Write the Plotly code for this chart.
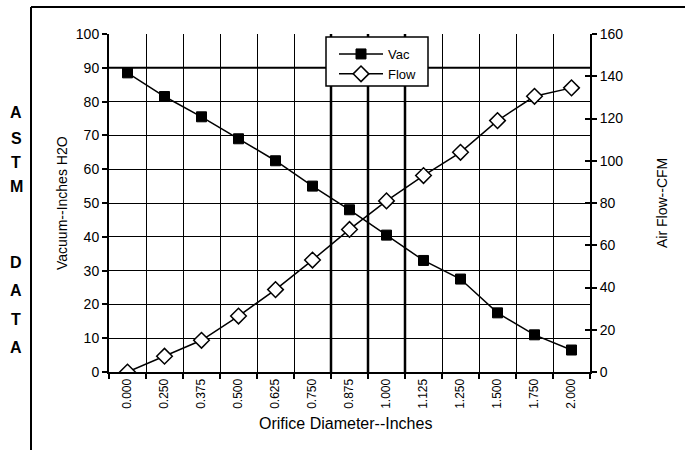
import plotly.graph_objects as go

diameters = ["0.000", "0.250", "0.375", "0.500", "0.625", "0.750", "0.875",
             "1.000", "1.125", "1.250", "1.500", "1.750", "2.000"]
vac = [88.5, 81.5, 75.5, 69.0, 62.5, 55.0, 48.0, 40.5, 33.0, 27.5, 17.5, 11.0, 6.5]
flow = [0.0, 7.5, 15.0, 26.5, 39.0, 53.0, 67.5, 81.0, 93.0, 104.0, 119.0, 130.5, 134.5]
side_letters = ["A", "S", "T", "M", "D", "A", "T", "A"]
side_letter_y = [113, 138, 162, 186, 262, 290, 319, 347]

FONT = "Arial, Liberation Sans, sans-serif"
PX0, PW, PY0, PH = 109, 481, 34, 338  # plot area in page pixels

fig = go.Figure()
fig.add_trace(go.Scatter(
    x=diameters, y=vac, name="Vac", mode="lines+markers",
    line=dict(color="black", width=1.5),
    marker=dict(symbol="square", size=10, color="black", line=dict(color="black", width=1)),
    yaxis="y"))
fig.add_trace(go.Scatter(
    x=diameters, y=flow, name="Flow", mode="lines+markers",
    line=dict(color="black", width=1.5),
    marker=dict(symbol="diamond", size=12, color="white", line=dict(color="black", width=1.5)),
    yaxis="y2"))


def px_x(p):
    return (p - PX0) / PW


def px_y(p):
    return (PY0 + PH - p) / PH


shapes = []
for xc in [5.5, 6.5, 7.5]:
    shapes.append(dict(type="line", xref="x", yref="paper", x0=xc, x1=xc, y0=0, y1=1,
                       line=dict(color="black", width=2.5), layer="below"))
shapes.append(dict(type="line", xref="paper", yref="y", x0=0, x1=1, y0=90, y1=90,
                   line=dict(color="black", width=2), layer="below"))
shapes.append(dict(type="line", xref="paper", yref="paper", x0=px_x(31), x1=px_x(31),
                   y0=px_y(460), y1=px_y(7), line=dict(color="black", width=2)))
shapes.append(dict(type="line", xref="paper", yref="paper", x0=px_x(31), x1=px_x(700),
                   y0=px_y(7), y1=px_y(7), line=dict(color="black", width=2)))
# legend box
shapes.append(dict(type="rect", xref="paper", yref="paper", x0=px_x(326), x1=px_x(428),
                   y0=px_y(86), y1=px_y(37), fillcolor="white",
                   line=dict(color="black", width=1.5), layer="above"))

annotations = []
annotations.append(dict(text="Vacuum--Inches H2O", xref="paper", yref="paper", x=px_x(62), y=0.5,
                        textangle=-90, showarrow=False, font=dict(family=FONT, size=14, color="black"),
                        xanchor="center", yanchor="middle"))
annotations.append(dict(text="Air Flow--CFM", xref="paper", yref="paper", x=px_x(662), y=0.5,
                        textangle=-90, showarrow=False, font=dict(family=FONT, size=14, color="black"),
                        xanchor="center", yanchor="middle"))
annotations.append(dict(text="Orifice Diameter--Inches", xref="paper", yref="paper", x=px_x(345),
                        y=px_y(424), showarrow=False, font=dict(family=FONT, size=16, color="black"),
                        xanchor="center", yanchor="middle"))
for ch, py in zip(side_letters, side_letter_y):
    annotations.append(dict(text="<b>%s</b>" % ch, xref="paper", yref="paper",
                            x=px_x(16), y=px_y(py), showarrow=False,
                            font=dict(family=FONT, size=16, color="black"),
                            xanchor="center", yanchor="middle"))

fig.update_layout(
    width=685, height=450,
    margin=dict(l=PX0, r=685 - PX0 - PW, t=PY0, b=450 - PY0 - PH),
    paper_bgcolor="white", plot_bgcolor="white",
    font=dict(family=FONT, color="black"),
    showlegend=True,
    legend=dict(x=px_x(334), y=px_y(39), xanchor="left", yanchor="top",
                bgcolor="rgba(0,0,0,0)", borderwidth=0,
                font=dict(family=FONT, size=13, color="black"),
                itemwidth=44),
    xaxis=dict(type="category", tickson="boundaries", showgrid=True, gridcolor="black", gridwidth=1,
               ticks="outside", ticklen=5, tickcolor="black", tickwidth=2,
               showline=True, linecolor="black", linewidth=2,
               tickangle=-90, tickfont=dict(family=FONT, size=12, color="black"),
               range=[-0.5, 12.5], zeroline=False),
    yaxis=dict(range=[0, 100], dtick=10, showgrid=True, gridcolor="black", gridwidth=1,
               ticks="outside", ticklen=5, tickcolor="black", tickwidth=2,
               showline=True, linecolor="black", linewidth=2, zeroline=False,
               tickfont=dict(family=FONT, size=14, color="black")),
    yaxis2=dict(range=[0, 160], dtick=20, overlaying="y", side="right", showgrid=False,
                ticks="outside", ticklen=5, tickcolor="black", tickwidth=2,
                showline=True, linecolor="black", linewidth=2, zeroline=False,
                tickfont=dict(family=FONT, size=14, color="black")),
    yaxis3=dict(range=[0, 160], dtick=20, overlaying="y", side="right", showgrid=False,
                ticks="inside", ticklen=5, tickcolor="black", tickwidth=2,
                showline=False, zeroline=False, showticklabels=False),
    shapes=shapes, annotations=annotations,
)
fig.add_trace(go.Scatter(x=[diameters[0]], y=[0], yaxis="y3", mode="markers",
                         marker=dict(opacity=0), showlegend=False, hoverinfo="skip"))

fig.write_html("out.html", config={"displayModeBar": False},
               post_script="document.body.style.margin='0';")
